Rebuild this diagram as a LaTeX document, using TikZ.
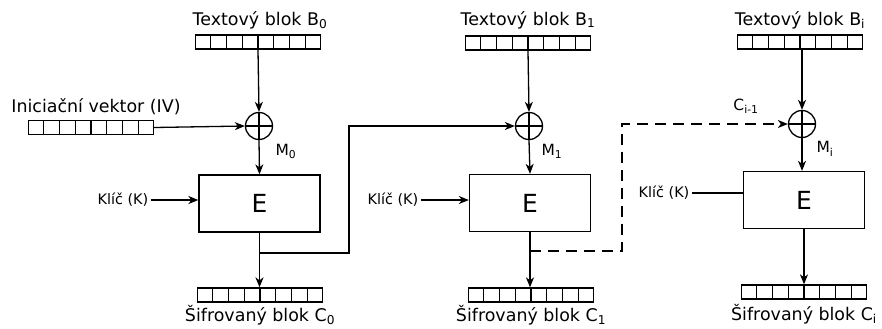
\documentclass[tikz,border=0pt]{standalone}
\usepackage{fontspec}
\setmainfont{DejaVu Sans}
\usetikzlibrary{arrows.meta,calc}
\begin{document}
\begin{tikzpicture}[x=1bp,y=-1bp, line width=1.3bp,
  reg/.style={draw, minimum width=125bp, minimum height=14bp, inner sep=0pt},
  lbl/.style={font=\fontsize{17.5}{20}\selectfont, inner sep=0pt, anchor=base},
  keylbl/.style={font=\fontsize{14.5}{17}\selectfont, inner sep=2pt},
  mlbl/.style={font=\fontsize{15.5}{18}\selectfont, inner sep=0pt},
  enc/.style={draw, minimum width=121bp, minimum height=57bp, inner sep=0pt, font=\fontsize{25}{28}\selectfont},
  xor/.style={draw, circle, minimum size=27bp, inner sep=0pt},
  arr/.style={-{Stealth[length=10bp,width=8bp,inset=3bp]}},
  dsh/.style={dash pattern=on 11bp off 7bp}
]
\useasboundingbox (0,0) rectangle (882,328);
\newcommand{\cells}[1]{\foreach \k in {1,...,7}{\draw ($(#1.south west)!\k/8!(#1.south east)$) -- ($(#1.north west)!\k/8!(#1.north east)$);}}
\newcommand{\plus}[1]{\draw (#1.north) -- (#1.south) (#1.west) -- (#1.east);}

% column 0
\node[lbl] (tb0) at (260,25) {Textový blok B\textsubscript{0}};
\node[reg] (b0) at (258,42) {}; \cells{b0}
\node[lbl] (tiv) at (96,112) {Iniciační vektor (IV)};
\node[reg] (iv) at (91,127.5) {}; \cells{iv}
\node[xor] (x0) at (259,126) {}; \plus{x0}
\node[mlbl] (m0) at (286,151) {M\textsubscript{0}};
\node[enc] (e0) at (259.5,203.5) {E};
\node[keylbl, anchor=east] (k0) at (151,200) {Klíč (K)};
\node[reg] (c0) at (260,295) {}; \cells{c0}
\node[lbl] (tc0) at (260,321.5) {Šifrovaný blok C\textsubscript{0}};

% column 1
\node[lbl] (tb1) at (528,25) {Textový blok B\textsubscript{1}};
\node[reg] (b1) at (528,43) {}; \cells{b1}
\node[xor] (x1) at (529,126) {}; \plus{x1}
\node[mlbl] (m1) at (552,151) {M\textsubscript{1}};
\node[enc] (e1) at (530,203) {E};
\node[keylbl, anchor=east] (k1) at (421,200) {Klíč (K)};
\node[reg] (c1) at (531,295) {}; \cells{c1}
\node[lbl] (tc1) at (531,321.5) {Šifrovaný blok C\textsubscript{1}};

% column 2
\node[lbl] (tb2) at (800,25) {Textový blok B\textsubscript{i}};
\node[reg] (b2) at (800,42) {}; \cells{b2}
\node[mlbl] (ci) at (746,106) {C\textsubscript{i-1}};
\node[xor] (x2) at (802,124) {}; \plus{x2}
\node[mlbl] (m2) at (825,149) {M\textsubscript{i}};
\node[enc] (e2) at (804,200) {E};
\node[keylbl, anchor=east] (k2) at (692,193) {Klíč (K)};
\node[reg] (c2) at (804,292) {}; \cells{c2}
\node[lbl] (tc2) at (804,320) {Šifrovaný blok C\textsubscript{i}};

% connectors
\draw[arr] (b0.south) -- (x0.north);
\draw[arr] (iv.east) -- (x0.west);
\draw[arr] (x0.south) -- (e0.north);
\draw[arr] (k0.east) -- (e0.west |- k0.east);
\draw[arr] (e0.south) -- (c0.north -| e0.south);

\draw[arr] (b1.south) -- (x1.north);
\draw[arr] (x1.south) -- (e1.north);
\draw[arr] (k1.east) -- (e1.west |- k1.east);
\draw[arr] (e1.south) -- (c1.north -| e1.south);

\draw[arr] (b2.south -| x2.north) -- (x2.north);
\draw[arr] (x2.south) -- (e2.north -| x2.south);
\draw (k2.east) -- (e2.west |- k2.east);
\draw[arr] (e2.south) -- (c2.north -| e2.south);

\coordinate (f0) at (e0.south |- 0,253);
\coordinate (t0) at (349,253);
\draw[arr] (f0) -- (t0) |- (x1.west);

\coordinate (f1) at (e1.south |- 0,251);
\coordinate (t1) at (622,251);
\draw[arr,dsh] (f1) -- (t1) |- (x2.west);
\end{tikzpicture}
\end{document}
